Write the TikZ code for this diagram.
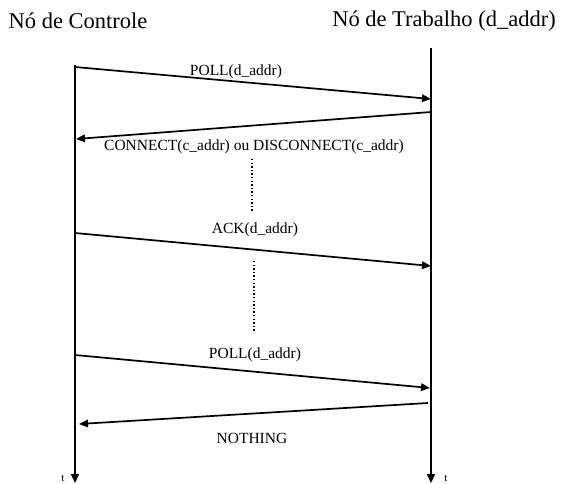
\documentclass[tikz,border=0pt]{standalone}
\usepackage{fontspec}
\setmainfont{Liberation Serif}
\usetikzlibrary{arrows.meta}
\begin{document}
\begin{tikzpicture}[x=1pt,y=-1pt,
  lifeline/.style={line width=1.5pt,-{Triangle[length=9pt,width=8pt]}},
  msg/.style={line width=1.7pt,-{Triangle[length=9pt,width=7.5pt]}},
  wait/.style={line width=1.6pt,dash pattern=on 1.4pt off 2.2pt},
  title/.style={font=\fontsize{22.5}{25}\selectfont,inner sep=0pt},
  lbl/.style={font=\fontsize{15.5}{18}\selectfont,inner sep=0pt}]
\useasboundingbox (0,0) rectangle (563,483);
\clip (0,0) rectangle (563,483);

% participants
\node[title] (ctrl) at (78,21) {Nó de Controle};
\node[title] (work) at (444,21) {Nó de Trabalho (d\_addr)};

% lifelines
\coordinate (Ltop) at (75,65);
\coordinate (Lbot) at (75,483);
\coordinate (Rtop) at (431,48);
\coordinate (Rbot) at (431,483);
\draw[lifeline] (Ltop) -- (Lbot);
\draw[lifeline] (Rtop) -- (Rbot);

% message end points
\coordinate (m1s) at (75,67);   \coordinate (m1e) at (431,99);
\coordinate (m2s) at (431,112); \coordinate (m2e) at (76,139);
\coordinate (m3s) at (75,233);  \coordinate (m3e) at (431,266);
\coordinate (m4s) at (75,355);  \coordinate (m4e) at (430,388);
\coordinate (m5s) at (428,403); \coordinate (m5e) at (79,424);

\draw[msg] (m1s) -- (m1e);
\draw[msg] (m2s) -- (m2e);
\draw[msg] (m3s) -- (m3e);
\draw[msg] (m4s) -- (m4e);
\draw[msg] (m5s) -- (m5e);

% message labels
\node[lbl] (l1) at (236,72) {POLL(d\_addr)};
\node[lbl] (l2) at (254,147) {CONNECT(c\_addr) ou DISCONNECT(c\_addr)};
\node[lbl] (l3) at (255,230) {ACK(d\_addr)};
\node[lbl] (l4) at (255,355) {POLL(d\_addr)};
\node[lbl] (l5) at (252,438) {NOTHING};

% elapsed time between messages
\coordinate (w1a) at (252,159); \coordinate (w1b) at (252,212);
\coordinate (w2a) at (254,261); \coordinate (w2b) at (254,332);
\draw[wait] (w1a) -- (w1b);
\draw[wait] (w2a) -- (w2b);

% time axis marks
\node[font=\fontsize{11}{13}\selectfont,inner sep=0pt,anchor=base] (tL) at (63,481) {t};
\node[font=\fontsize{11}{13}\selectfont,inner sep=0pt,anchor=base] (tR) at (446,481) {t};
\end{tikzpicture}
\end{document}
